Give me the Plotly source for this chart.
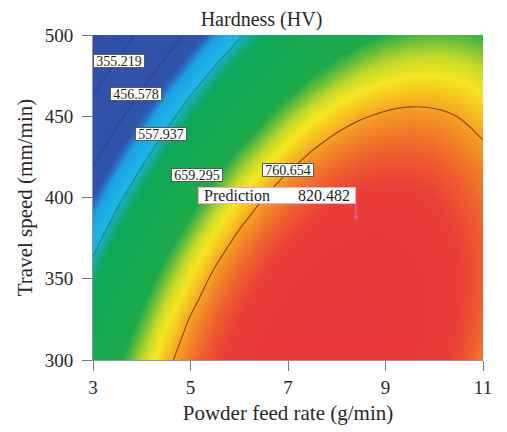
import plotly.graph_objects as go

# ---------------- data ----------------
powder_feed_rate = [3.0, 3.5, 4.0, 4.5, 5.0, 5.5, 6.0, 6.5, 7.0, 7.5, 8.0, 8.5, 9.0, 9.5, 10.0, 10.5, 11.0]
travel_speed = [300, 312.5, 325, 337.5, 350, 362.5, 375, 387.5, 400, 412.5, 425, 437.5, 450, 462.5, 475, 487.5, 500]
# hardness (HV), rows = travel speed, columns = powder feed rate
hardness = [
    [640, 682, 719, 752, 781, 805, 824, 840, 850, 857, 858, 856, 849, 837, 821, 801, 776],
    [627, 670, 708, 743, 772, 798, 818, 835, 847, 854, 857, 856, 850, 840, 825, 806, 782],
    [612, 657, 696, 732, 763, 789, 811, 829, 842, 850, 855, 854, 850, 840, 827, 809, 786],
    [596, 642, 683, 719, 751, 779, 802, 821, 835, 845, 850, 851, 848, 840, 827, 811, 789],
    [579, 626, 668, 706, 739, 768, 792, 812, 827, 838, 845, 847, 845, 838, 827, 811, 791],
    [560, 608, 651, 690, 725, 755, 780, 801, 818, 830, 838, 841, 840, 834, 824, 810, 791],
    [540, 589, 633, 673, 709, 740, 767, 789, 807, 820, 829, 834, 834, 829, 820, 807, 789],
    [518, 568, 614, 655, 692, 724, 752, 775, 794, 809, 819, 825, 826, 823, 815, 803, 786],
    [495, 546, 593, 635, 673, 707, 736, 760, 781, 796, 808, 814, 817, 815, 808, 797, 782],
    [470, 522, 570, 614, 653, 688, 718, 744, 765, 782, 794, 802, 806, 805, 800, 790, 776],
    [444, 497, 546, 591, 632, 667, 699, 726, 748, 766, 780, 789, 794, 794, 790, 781, 768],
    [416, 471, 521, 567, 608, 645, 678, 706, 730, 749, 764, 774, 780, 782, 779, 771, 759],
    [387, 443, 494, 541, 584, 622, 656, 685, 710, 731, 746, 758, 765, 768, 766, 760, 749],
    [356, 413, 466, 514, 558, 597, 632, 663, 689, 710, 728, 740, 748, 752, 752, 747, 737],
    [324, 382, 436, 485, 530, 571, 607, 639, 666, 689, 707, 721, 730, 735, 736, 732, 724],
    [290, 349, 404, 455, 501, 543, 580, 613, 642, 666, 685, 700, 711, 717, 719, 716, 709],
    [255, 315, 372, 423, 471, 514, 552, 586, 616, 641, 662, 678, 690, 697, 700, 698, 692],
]
contour_levels = [355.219, 456.578, 557.937, 659.295, 760.654]
x_ticks = [3, 5, 7, 9, 11]
y_ticks = [300, 350, 400, 450, 500]
prediction_x = 8.39
prediction_y = 388
prediction_value = 820.482

# ---------------- style ----------------
FONT = "Liberation Serif, Times New Roman, serif"
ZMIN, ZMAX = 250, 860
stops = [
    (250, "rgb(48,80,166)"),
    (492, "rgb(48,84,170)"),
    (504, "rgb(40,112,200)"),
    (516, "rgb(30,160,226)"),
    (548, "rgb(28,182,232)"),
    (566, "rgb(20,172,155)"),
    (585, "rgb(12,168,90)"),
    (688, "rgb(30,170,74)"),
    (703, "rgb(105,190,58)"),
    (719, "rgb(195,217,42)"),
    (735, "rgb(244,230,32)"),
    (750, "rgb(246,192,32)"),
    (765, "rgb(243,150,36)"),
    (790, "rgb(238,96,46)"),
    (810, "rgb(234,62,56)"),
    (860, "rgb(232,54,58)"),
]
colorscale = [[(v - ZMIN) / (ZMAX - ZMIN), c] for v, c in stops]

fig = go.Figure()

# coloured surface
fig.add_trace(go.Contour(
    x=powder_feed_rate, y=travel_speed, z=hardness,
    colorscale=colorscale, zauto=False, zmin=ZMIN, zmax=ZMAX,
    contours=dict(coloring="heatmap", showlines=False,
                  start=contour_levels[0], end=contour_levels[-1], size=contour_levels[1] - contour_levels[0]),
    line=dict(width=0), showscale=False, hoverinfo="skip",
))
# faint lower contour lines
fig.add_trace(go.Contour(
    x=powder_feed_rate, y=travel_speed, z=hardness,
    contours=dict(coloring="none", start=contour_levels[0], end=contour_levels[3],
                  size=contour_levels[1] - contour_levels[0]),
    line=dict(color="rgba(25,45,90,0.4)", width=1), showscale=False, hoverinfo="skip",
))
# brown top contour line
fig.add_trace(go.Contour(
    x=powder_feed_rate, y=travel_speed, z=hardness,
    contours=dict(coloring="none", start=contour_levels[4], end=contour_levels[4], size=100),
    line=dict(color="rgb(150,72,28)", width=1.2), showscale=False, hoverinfo="skip",
))

# prediction flag
fig.add_trace(go.Scatter(
    x=[prediction_x, prediction_x], y=[prediction_y, prediction_y + 10.5],
    mode="lines", line=dict(color="rgb(236,90,160)", width=1.5),
    showlegend=False, hoverinfo="skip",
))
fig.add_trace(go.Scatter(
    x=[prediction_x], y=[prediction_y], mode="markers",
    marker=dict(color="rgb(236,90,160)", size=4),
    showlegend=False, hoverinfo="skip",
))

# contour labels
label_pos = [(3.54, 484.3), (3.885, 463.8), (4.39, 438.8), (5.125, 414.0), (6.99, 417.2)]
for lvl, (lx, ly) in zip(contour_levels, label_pos):
    fig.add_annotation(
        x=lx, y=ly, xref="x", yref="y", text="%.3f" % lvl, showarrow=False,
        font=dict(family=FONT, size=14, color="rgb(30,30,30)"),
        bgcolor="white", bordercolor="rgb(90,90,90)", borderwidth=1, borderpad=0,
        width=50, height=12,
    )

fig.add_annotation(
    x=6.77, y=401.5, xref="x", yref="y",
    text="Prediction" + "\u00a0" * 7 + "%.3f" % prediction_value, showarrow=False,
    font=dict(family=FONT, size=16, color="rgb(30,30,30)"),
    bgcolor="white", bordercolor="rgb(245,170,205)", borderwidth=1, borderpad=0,
    width=156, height=15,
)

fig.update_layout(
    width=507, height=432,
    margin=dict(l=85, r=32, t=27, b=80),
    paper_bgcolor="white", plot_bgcolor="white",
    showlegend=False,
    title=dict(text="Hardness (HV)", x=0.5, xanchor="center", y=0.99, yanchor="top",
               pad=dict(t=0, b=0),
               font=dict(family=FONT, size=20, color="rgb(40,40,40)")),
    font=dict(family=FONT, color="rgb(40,40,40)"),
)
fig.update_xaxes(
    range=[3, 11], tickvals=x_ticks, ticktext=[str(t) for t in x_ticks],
    ticks="outside", ticklen=10, tickcolor="rgb(120,120,120)", tickwidth=1,
    showline=True, linecolor="rgb(150,150,150)", linewidth=1,
    showgrid=False, zeroline=False, tickfont=dict(family=FONT, size=19),
    title=dict(text="Powder feed rate (g/min)", font=dict(family=FONT, size=21), standoff=8),
)
fig.update_yaxes(
    range=[300, 500], tickvals=y_ticks, ticktext=[str(t) for t in y_ticks],
    ticks="outside", ticklen=10, tickcolor="rgb(120,120,120)", tickwidth=1,
    ticklabelstandoff=5,
    showline=True, linecolor="rgb(150,150,150)", linewidth=1,
    showgrid=False, zeroline=False, tickfont=dict(family=FONT, size=19),
    title=dict(text="Travel speed (mm/min)", font=dict(family=FONT, size=21), standoff=6),
)

fig.write_html("out.html")
